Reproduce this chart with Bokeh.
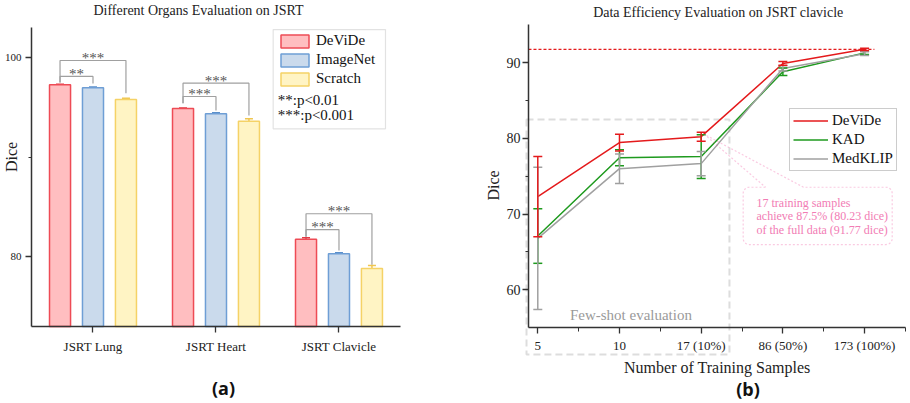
import numpy as np
from bokeh.plotting import figure
from bokeh.layouts import row
from bokeh.models import (Range1d, FixedTicker, Legend, LegendItem, Label,
                          BoxAnnotation, PolyAnnotation, Whisker, ColumnDataSource, TeeHead)
from bokeh.embed import file_html
from bokeh.resources import INLINE

# ---------------- data: panel (a) ----------------
organs = ["JSRT Lung", "JSRT Heart", "JSRT Clavicle"]
methods_a = ["DeViDe", "ImageNet", "Scratch"]
devide_dice = [97.26, 94.87, 81.74]
imagenet_dice = [96.95, 94.34, 80.27]
scratch_dice = [95.78, 93.60, 78.80]
devide_err = [0.05, 0.05, 0.15]
imagenet_err = [0.08, 0.10, 0.12]
scratch_err = [0.12, 0.25, 0.30]
y_ticks_a = [80, 100]
y_minor_a = [90]
# significance brackets: organ, compared method, stars, bar height, left-leg end, right-leg end
sig_organ = [0, 0, 1, 1, 2, 2]
sig_method = [1, 2, 1, 2, 1, 2]
sig_stars = ["**", "***", "***", "***", "***", "***"]
sig_height = [98.1, 99.7, 96.08, 97.42, 82.7, 84.3]
sig_left_end = [97.5, 97.5, 95.4, 95.4, 82.0, 82.0]
sig_right_end = [97.4, 96.4, 94.67, 94.17, 80.6, 79.17]

# ---------------- data: panel (b) ----------------
samples = ["5", "10", "17 (10%)", "86 (50%)", "173 (100%)"]
devide = [72.3, 79.45, 80.23, 89.9, 91.77]
devide_sd = [5.3, 1.1, 0.6, 0.25, 0.15]
kad = [67.1, 77.44, 77.6, 88.8, 91.3]
kad_sd = [3.6, 1.05, 2.9, 0.5, 0.2]
medklip = [66.8, 76.0, 76.67, 89.25, 91.2]
medklip_sd = [9.4, 1.95, 1.6, 0.35, 0.25]
full_data_dice = 91.77
y_ticks_b = [60, 70, 80, 90]
y_minor_b = [65, 75, 85]

SERIF = "Liberation Serif"

# ================= panel (a) =================
# plot area covers whole canvas; axes are pinned with fixed_location
A_X0, A_X1 = -0.5, 2.5       # axis extent (x)
A_Y0, A_Y1 = 72.96, 103.02   # axis extent (y)
pa = figure(width=460, height=403, x_range=Range1d(-0.752, 2.988), y_range=Range1d(65.23, 105.73),
            output_backend="svg", toolbar_location=None, min_border=0,
            min_border_left=0, min_border_right=0, min_border_top=0, min_border_bottom=0)
pa.outline_line_color = None
pa.grid.grid_line_color = None
pa.background_fill_color = "white"

fills = ["#FFBEC0", "#CADAEC", "#FFF4C4"]
lines = ["#EE4B55", "#6E9ED5", "#F5D266"]
errc = ["#E23A45", "#5B8FCB", "#EFC64F"]
offsets = [-0.268, 0.0, 0.268]
vals_a = [devide_dice, imagenet_dice, scratch_dice]
errs_a = [devide_err, imagenet_err, scratch_err]
centers = np.arange(len(organs))

bar_r = []
for k in range(3):
    xs = centers + offsets[k]
    src = ColumnDataSource(dict(x=xs, top=vals_a[k],
                                upper=np.array(vals_a[k]) + np.array(errs_a[k]),
                                lower=np.array(vals_a[k]) - np.array(errs_a[k])))
    r = pa.vbar(x="x", top="top", bottom=A_Y0, width=0.171, source=src,
                fill_color=fills[k], line_color=lines[k], line_width=1.5)
    bar_r.append(r)
    pa.add_layout(Whisker(base="x", upper="upper", lower="lower", source=src,
                          line_color=errc[k], line_width=1.5,
                          upper_head=TeeHead(size=8, line_color=errc[k], line_width=1.5),
                          lower_head=TeeHead(size=8, line_color=errc[k], line_width=1.5)))

# significance brackets
bx, by = [], []
for i in range(len(sig_organ)):
    xl = centers[sig_organ[i]] + offsets[0]
    xr = centers[sig_organ[i]] + offsets[sig_method[i]]
    bx.append([xl, xl, xr, xr])
    by.append([sig_left_end[i], sig_height[i], sig_height[i], sig_right_end[i]])
    pa.add_layout(Label(x=(xl + xr) / 2, y=sig_height[i] + 0.25, text=sig_stars[i],
                        text_align="center", text_baseline="middle",
                        text_font=SERIF, text_font_size="15px", text_color="#555555"))
pa.multi_line(xs=bx, ys=by, line_color="#A0A0A0", line_width=1.2)

pa.xaxis.ticker = FixedTicker(ticks=list(centers), minor_ticks=[])
pa.xaxis.major_label_overrides = {int(i): s for i, s in zip(centers, organs)}
pa.xaxis.fixed_location = A_Y0
pa.xaxis.bounds = (A_X0, A_X1)
pa.xaxis.major_tick_out = 6
pa.xaxis.major_tick_in = 0
pa.xaxis.major_label_standoff = 6
pa.xaxis.major_label_text_font_size = "13px"
pa.yaxis.ticker = FixedTicker(ticks=y_ticks_a, minor_ticks=y_minor_a)
pa.yaxis.fixed_location = A_X0
pa.yaxis.bounds = (A_Y0, A_Y1)
pa.yaxis.major_tick_out = 6
pa.yaxis.major_tick_in = 0
pa.yaxis.minor_tick_out = 3
pa.yaxis.minor_tick_in = 0
pa.yaxis.major_label_standoff = 4
pa.yaxis.major_label_text_font_size = "11px"
for ax in (pa.xaxis, pa.yaxis):
    ax.major_label_text_font = SERIF
    ax.major_label_text_color = "#222222"
    ax.axis_line_width = 1.5
    ax.axis_line_color = "#333333"
    ax.major_tick_line_color = "#333333"
    ax.minor_tick_line_color = "#333333"
    ax.major_tick_line_width = 1.3

legA = Legend(items=[LegendItem(label=methods_a[k], renderers=[bar_r[k]]) for k in range(3)],
              location=(277, 316), padding=0, margin=0, spacing=2,
              glyph_width=35, glyph_height=16, label_height=16, label_standoff=4,
              label_text_font=SERIF, label_text_font_size="15px", label_text_color="#111111",
              border_line_color=None, background_fill_alpha=0)
pa.add_layout(legA)
pa.add_layout(BoxAnnotation(left=1.465, right=2.378, top=102.81, bottom=92.83,
                            fill_color=None, line_color="#A0A0A0", line_width=1.2))
pa.add_layout(Label(x=1.502, y=95.78, text="**:p<0.01", text_baseline="middle",
                    text_font=SERIF, text_font_size="15px", text_color="#111111"))
pa.add_layout(Label(x=1.502, y=94.24, text="***:p<0.001", text_baseline="middle",
                    text_font=SERIF, text_font_size="15px", text_color="#111111"))

pa.add_layout(Label(x=0.858, y=104.72, text="Different Organs Evaluation on JSRT",
                    text_align="center", text_baseline="middle",
                    text_font=SERIF, text_font_size="14px", text_color="#222222"))
pa.add_layout(Label(x=-0.663, y=90.0, text="Dice", angle=np.pi / 2, text_align="center",
                    text_baseline="middle", text_font=SERIF, text_font_size="16px",
                    text_color="#222222"))
pa.add_layout(Label(x=1.061, y=66.75, text="(a)", text_align="center", text_baseline="middle",
                    text_font="Open Sans", text_font_style="bold", text_font_size="18px",
                    text_color="#111111"))

# ================= panel (b) =================
B_X0, B_X1 = -0.114, 4.5
B_Y0, B_Y1 = 55.02, 95.05
pb = figure(width=450, height=403, x_range=Range1d(-0.946, 4.562), y_range=Range1d(44.98, 98.22),
            output_backend="svg", toolbar_location=None, min_border=0,
            min_border_left=0, min_border_right=0, min_border_top=0, min_border_bottom=0)
pb.outline_line_color = None
pb.grid.grid_line_color = None
pb.background_fill_color = "white"

xi = np.arange(len(samples))
RED, GREEN, GREY = "#E41A1C", "#1E9A1E", "#A0A0A0"
series = [("DeViDe", devide, devide_sd, RED), ("KAD", kad, kad_sd, GREEN),
          ("MedKLIP", medklip, medklip_sd, GREY)]

# few-shot dashed box
pb.add_layout(PolyAnnotation(xs=[-0.138, 2.346, 2.346, -0.138], ys=[82.5, 82.5, 51.45, 51.45],
                             fill_color=None, line_color="#8E8E8E", line_width=2,
                             line_dash="7 4", level="underlay"))

# full-data reference line
pb.segment(x0=[B_X0], x1=[4.12], y0=[full_data_dice], y1=[full_data_dice],
           line_color=RED, line_width=1.2, line_dash="3 2")

line_r = {}
for name, vals, sd, col in [series[1], series[2], series[0]]:
    src = ColumnDataSource(dict(x=xi, y=vals, upper=np.array(vals) + np.array(sd),
                                lower=np.array(vals) - np.array(sd)))
    pb.add_layout(Whisker(base="x", upper="upper", lower="lower", source=src,
                          line_color=col, line_width=1.5, level="glyph",
                          upper_head=TeeHead(size=9, line_color=col, line_width=1.5),
                          lower_head=TeeHead(size=9, line_color=col, line_width=1.5)))
    line_r[name] = pb.line("x", "y", source=src, line_color=col, line_width=1.5)

pb.xaxis.ticker = FixedTicker(ticks=list(xi), minor_ticks=[0.5, 1.5, 2.5, 3.5, 4.5])
pb.xaxis.major_label_overrides = {int(i): s for i, s in zip(xi, samples)}
pb.xaxis.fixed_location = B_Y0
pb.xaxis.bounds = (B_X0, B_X1)
pb.xaxis.major_tick_out = 6
pb.xaxis.major_tick_in = 0
pb.xaxis.minor_tick_out = 4
pb.xaxis.minor_tick_in = 0
pb.xaxis.major_label_standoff = 4
pb.xaxis.major_label_text_font_size = "13px"
pb.yaxis.ticker = FixedTicker(ticks=y_ticks_b, minor_ticks=y_minor_b)
pb.yaxis.fixed_location = B_X0
pb.yaxis.bounds = (B_Y0, B_Y1)
pb.yaxis.major_tick_out = 6
pb.yaxis.major_tick_in = 0
pb.yaxis.minor_tick_out = 3
pb.yaxis.minor_tick_in = 0
pb.yaxis.major_label_standoff = 2
pb.yaxis.major_label_text_font_size = "14px"
for ax in (pb.xaxis, pb.yaxis):
    ax.major_label_text_font = SERIF
    ax.major_label_text_color = "#222222"
    ax.axis_line_width = 1.5
    ax.axis_line_color = "#333333"
    ax.major_tick_line_color = "#333333"
    ax.minor_tick_line_color = "#333333"
    ax.major_tick_line_width = 1.3

legB = Legend(items=[LegendItem(label=n, renderers=[line_r[n]]) for n in ["DeViDe", "KAD", "MedKLIP"]],
              location=(329, 232), padding=3, margin=0, spacing=2,
              glyph_width=35, glyph_height=17, label_height=17, label_standoff=4,
              label_text_font=SERIF, label_text_font_size="15px", label_text_color="#111111",
              border_line_color="#999999", border_line_width=1.2, background_fill_color="white")
pb.add_layout(legB)

# callout
def callout(x0, x1, y0, y1, rx, ry, b0, b1, ax, ay, n=7):
    xs, ys = [b0], [y1]
    for cx, cy, a0, a1 in [(x0 + rx, y1 - ry, np.pi / 2, np.pi), (x0 + rx, y0 + ry, np.pi, 1.5 * np.pi),
                           (x1 - rx, y0 + ry, 1.5 * np.pi, 2 * np.pi), (x1 - rx, y1 - ry, 0, np.pi / 2)]:
        t = np.linspace(a0, a1, n)
        xs += list(cx + rx * np.cos(t))
        ys += list(cy + ry * np.sin(t))
    xs += [b1, ax, b0]
    ys += [y1, ay, y1]
    return xs, ys

cxs, cys = callout(2.514, 4.338, 65.98, 73.55, 0.075, 0.8, 2.787, 3.252, xi[2] + 0.04, devide[2] + 0.3)
PINK = "#F27CB4"
pb.add_layout(PolyAnnotation(xs=cxs, ys=cys, fill_color=None, line_color="#F0509B",
                             line_width=1.2, line_dash="2 2"))
for j, t in enumerate(["17 training samples", "achieve 87.5% (80.23 dice)",
                       "of the full data (91.77 dice)"]):
    pb.add_layout(Label(x=2.677, y=[71.47, 69.69, 67.9][j], text=t, text_baseline="middle",
                        text_font=SERIF, text_font_size="12px", text_color=PINK))

pb.add_layout(Label(x=1.14, y=56.7, text="Few-shot evaluation", text_align="center",
                    text_baseline="middle", text_font=SERIF, text_font_size="15px",
                    text_color="#9A9A9A"))
pb.add_layout(Label(x=2.21, y=96.57, text="Data Efficiency Evaluation on JSRT clavicle",
                    text_align="center", text_baseline="middle",
                    text_font=SERIF, text_font_size="14px", text_color="#222222"))
pb.add_layout(Label(x=2.197, y=49.74, text="Number of Training Samples", text_align="center",
                    text_baseline="middle", text_font=SERIF, text_font_size="16px",
                    text_color="#222222"))
pb.add_layout(Label(x=-0.543, y=73.78, text="Dice", angle=np.pi / 2, text_align="center",
                    text_baseline="middle", text_font=SERIF, text_font_size="16px",
                    text_color="#222222"))
pb.add_layout(Label(x=2.573, y=46.96, text="(b)", text_align="center", text_baseline="middle",
                    text_font="Open Sans", text_font_style="bold", text_font_size="18px",
                    text_color="#111111"))

layout = row(pa, pb)
open("out.html", "w").write(file_html(layout, INLINE))
